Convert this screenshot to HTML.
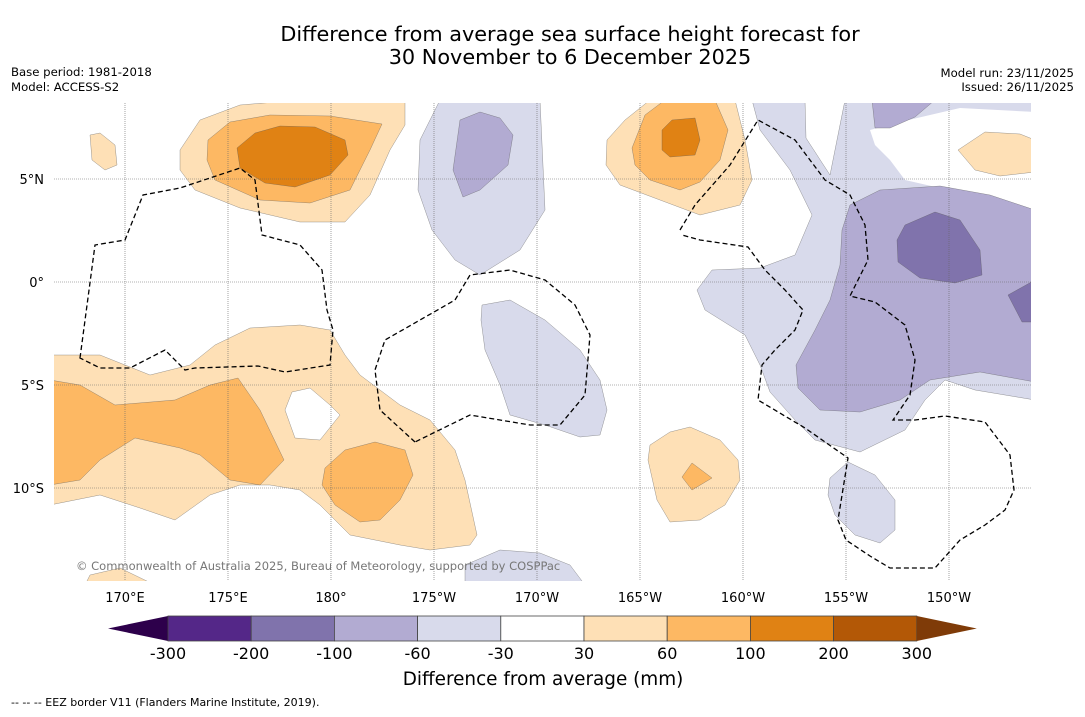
<!DOCTYPE html>
<html><head><meta charset="utf-8">
<style>
body{margin:0;background:#fff;width:1085px;height:713px;overflow:hidden;font-family:"DejaVu Sans","Liberation Sans",sans-serif;}
</style></head>
<body>
<svg id="c" width="1085" height="713" xmlns="http://www.w3.org/2000/svg">
<rect width="1085" height="713" fill="#fff"/>
<text x="570" y="41" font-size="20.8" text-anchor="middle">Difference from average sea surface height forecast for</text>
<text x="570" y="64" font-size="20.8" text-anchor="middle">30 November to 6 December 2025</text>
<text x="11" y="76" font-size="11.7">Base period: 1981-2018</text>
<text x="11" y="91" font-size="11.7">Model: ACCESS-S2</text>
<text x="1074" y="77" font-size="11.7" text-anchor="end">Model run: 23/11/2025</text>
<text x="1074" y="91" font-size="11.7" text-anchor="end">Issued: 26/11/2025</text>
<defs><clipPath id="mc"><rect x="54" y="103" width="977" height="478"/></clipPath></defs>
<g clip-path="url(#mc)">
<g stroke="#555" stroke-width="0.3">
<path fill="#fee0b6" d="M180,150 L200,120 L240,105 L300,100 L405,100 L405,125 L390,150 L370,195 L345,222 L300,222 L240,208 L195,190 L180,170Z"/>
<path fill="#fdb863" d="M208,140 L230,122 L270,115 L330,116 L382,124 L370,150 L350,190 L310,203 L260,200 L215,180 L207,160Z"/>
<path fill="#e08214" d="M237,148 L255,133 L280,126 L315,127 L345,140 L348,155 L330,175 L295,187 L265,183 L240,168Z"/>
<path fill="#fee0b6" d="M90,135 L100,133 L115,145 L117,165 L105,170 L92,160Z"/>
<path fill="#d8daeb" d="M440,100 L540,100 L545,210 L520,250 L480,275 L455,260 L432,230 L418,190 L420,140Z"/>
<path fill="#b2abd2" d="M460,120 L480,112 L500,118 L513,135 L508,165 L480,190 L463,197 L453,170Z"/>
<path fill="#fee0b6" d="M607,140 L625,120 L650,100 L735,100 L745,140 L752,180 L740,205 L700,215 L660,200 L620,185 L606,165Z"/>
<path fill="#fdb863" d="M632,148 L645,115 L665,100 L715,100 L728,130 L720,160 L700,182 L680,190 L650,180 L635,165Z"/>
<path fill="#e08214" d="M662,130 L672,120 L695,118 L700,140 L695,155 L670,157 L662,150Z"/>
<path fill="#d8daeb" d="M752,100 L805,100 L806,138 L830,175 L845,100 L1035,100 L1035,400 L975,390 L945,380 L925,400 L905,430 L860,452 L815,440 L795,420 L770,392 L760,365 L745,335 L705,310 L697,290 L712,270 L760,268 L795,255 L812,215 L790,170 L760,130Z"/>
<path fill="#fff" stroke="none" d="M870,130 L900,122 L960,108 L1035,112 L1035,212 L990,200 L940,188 L905,180 L890,160 L875,145Z"/>
<path fill="#fee0b6" d="M958,150 L985,132 L1020,134 L1035,140 L1035,172 L1000,176 L975,170Z"/>
<path fill="#b2abd2" d="M850,205 L880,190 L940,186 L990,195 L1035,210 L1035,382 L980,372 L930,380 L900,400 L860,412 L820,410 L798,388 L796,365 L815,330 L830,300 L840,265 L842,230Z"/>
<path fill="#b2abd2" d="M872,100 L935,100 L915,117 L890,128 L875,128Z"/>
<path fill="#8073ac" d="M897,240 L905,225 L935,212 L960,220 L980,250 L982,275 L955,283 L920,278 L898,262Z"/>
<path fill="#8073ac" d="M1008,295 L1035,280 L1035,322 L1022,322Z"/>
<path fill="#fee0b6" d="M50,355 L100,355 L150,375 L190,365 L215,345 L250,328 L300,325 L330,330 L345,355 L360,375 L380,390 L400,405 L430,420 L455,450 L465,480 L477,535 L470,545 L430,550 L400,545 L350,535 L320,505 L300,490 L270,485 L240,485 L210,495 L175,520 L140,508 L100,495 L50,505Z"/>
<path fill="#fdb863" d="M50,380 L80,385 L115,405 L175,400 L210,385 L238,378 L260,410 L284,460 L260,485 L230,480 L200,455 L180,448 L135,438 L100,460 L80,480 L50,485Z"/>
<path fill="#fff" d="M292,392 L310,388 L330,405 L340,415 L320,440 L295,438 L285,410Z"/>
<path fill="#fdb863" d="M325,468 L345,450 L375,442 L405,450 L413,475 L400,500 L380,520 L360,522 L335,505 L322,485Z"/>
<path fill="#fee0b6" d="M650,445 L670,432 L690,427 L720,440 L738,460 L740,480 L725,505 L700,520 L670,522 L657,500 L648,460Z"/>
<path fill="#fdb863" d="M682,477 L692,463 L712,478 L692,490Z"/>
<path fill="#d8daeb" d="M482,305 L510,300 L545,320 L580,350 L600,380 L607,410 L600,435 L580,437 L545,425 L510,415 L500,385 L485,350 L481,320Z"/>
<path fill="#d8daeb" d="M830,478 L848,462 L875,475 L895,500 L895,530 L880,543 L855,535 L835,515 L828,495Z"/>
<path fill="#d8daeb" d="M465,565 L500,550 L540,553 L570,565 L585,585 L465,585Z"/>
<path fill="#fee0b6" d="M90,575 L120,568 L155,585 L85,585Z"/>
</g>
<g id="grid" stroke="#666" stroke-width="0.6" stroke-dasharray="1,1"></g>
<g fill="none" stroke="#000" stroke-width="1.3" stroke-dasharray="5,3">
<path d="M80,358 L95,245 L125,240 L143,195 L180,188 L240,168 L255,180 L262,235 L300,245 L322,270 L327,310 L333,330 L330,365 L285,372 L258,366 L195,368 L185,370 L165,350 L130,368 L100,368 Z"/>
<path d="M415,442 L380,410 L375,370 L385,340 L455,300 L470,275 L510,270 L545,280 L575,305 L590,335 L585,395 L560,425 L530,425 L470,415 Z"/>
<path d="M680,230 L695,205 L730,165 L758,120 L795,140 L825,180 L850,195 L865,225 L868,260 L850,296 L875,302 L905,325 L915,360 L910,395 L893,420 L915,420 L945,416 L985,422 L1010,455 L1014,490 L1005,510 L985,525 L960,540 L935,568 L890,568 L870,556 L846,540 L838,520 L848,458 L805,428 L758,400 L762,365 L775,350 L795,330 L803,310 L785,290 L765,270 L748,247 L700,240 L682,235"/>
</g>
<text x="76" y="570" font-size="11.5" fill="#777">© Commonwealth of Australia 2025, Bureau of Meteorology, supported by COSPPac</text>
</g>
<g id="axes" font-size="13"></g>
<g id="cbar"></g>
<text x="543" y="685" font-size="18.4" text-anchor="middle">Difference from average (mm)</text>
<text x="11" y="706" font-size="11">--  --  -- EEZ border V11 (Flanders Marine Institute, 2019).</text>
</svg>
<script>
const lonLabels=["170°E","175°E","180°","175°W","170°W","165°W","160°W","155°W","150°W"];
const lonValues=[170,175,180,185,190,195,200,205,210];
const latLabels=["5°N","0°","5°S","10°S"];
const latValues=[5,0,-5,-10];
const cbLevels=[-300,-200,-100,-60,-30,30,60,100,200,300];
const cbColors=["#542788","#8073ac","#b2abd2","#d8daeb","#ffffff","#fee0b6","#fdb863","#e08214","#b35806"];
const cbExtLow="#2d004b", cbExtHigh="#7f3b08";
const NS="http://www.w3.org/2000/svg";
const xLon=l=>125+(l-170)*20.6, yLat=l=>282-l*20.6;
function mk(t,a,p){const e=document.createElementNS(NS,t);for(const k in a)e.setAttribute(k,a[k]);p.appendChild(e);return e;}
const grid=document.getElementById('grid'),axes=document.getElementById('axes'),cb=document.getElementById('cbar');
lonValues.forEach((v,i)=>{const x=xLon(v);
 const l=mk('line',{x1:x,x2:x,y1:103,y2:581},grid);
 
 
 const t=mk('text',{x:x,y:602,'text-anchor':'middle'},axes);t.textContent=lonLabels[i];
 
 });
latValues.forEach((v,i)=>{const y=yLat(v);
 const l=mk('line',{x1:54,x2:1031,y1:y,y2:y},grid);
 
 
 const t=mk('text',{x:44,y:y+5,'text-anchor':'end'},axes);t.textContent=latLabels[i];
 
 });
const cx0=168,cw=83.2,cy=616,ch=25;
const lo=mk('polygon',{points:`108,${cy+ch/2} ${cx0},${cy} ${cx0},${cy+ch}`,fill:cbExtLow},cb);


cbColors.forEach((c,i)=>{const r=mk('rect',{x:cx0+i*cw,y:cy,width:cw,height:ch,fill:c,stroke:'#444','stroke-width':0.8},cb);
 
 });
const xe=cx0+cbColors.length*cw;
const hi=mk('polygon',{points:`${xe},${cy} ${xe+60},${cy+ch/2} ${xe},${cy+ch}`,fill:cbExtHigh},cb);


cbLevels.forEach((v,i)=>{const t=mk('text',{x:cx0+i*cw,y:659,'text-anchor':'middle','font-size':16},cb);t.textContent=v;
 
 });
</script>
</body></html>
